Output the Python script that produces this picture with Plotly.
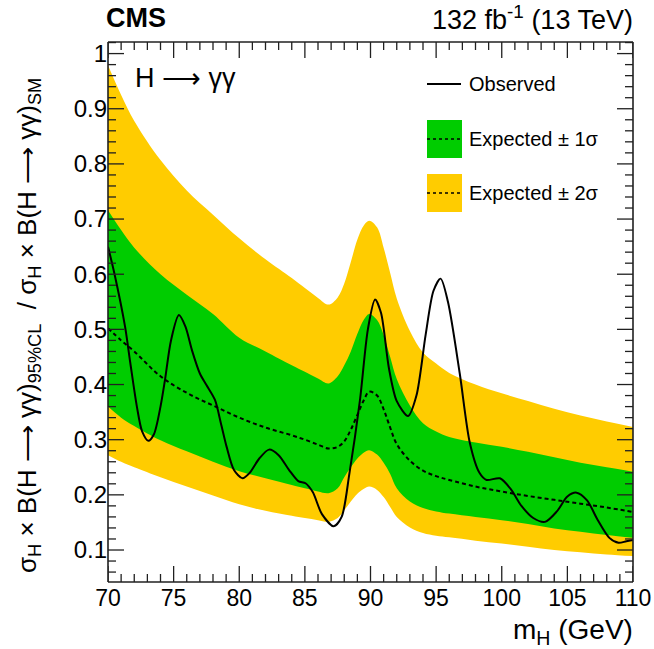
import plotly.graph_objects as go

# ---------------- data ----------------
mass = [70, 71, 72, 74, 76, 78, 80, 82, 84, 85, 86, 86.8, 87.5, 88, 88.5, 89, 89.5, 89.9,
        90.5, 91, 91.5, 92, 93, 94, 95, 96, 98, 100, 102, 104, 106, 108, 110]
exp_p2 = [0.979, 0.925, 0.878, 0.807, 0.752, 0.708, 0.665, 0.627, 0.593, 0.575, 0.557, 0.545,
          0.558, 0.583, 0.622, 0.663, 0.689, 0.697, 0.685, 0.648, 0.602, 0.556, 0.497, 0.458,
          0.438, 0.421, 0.400, 0.384, 0.370, 0.356, 0.344, 0.333, 0.323]
exp_p1 = [0.716, 0.680, 0.648, 0.600, 0.563, 0.528, 0.485, 0.460, 0.435, 0.423, 0.411, 0.402,
          0.415, 0.435, 0.460, 0.492, 0.518, 0.528, 0.517, 0.490, 0.450, 0.410, 0.362, 0.330,
          0.315, 0.305, 0.295, 0.287, 0.278, 0.268, 0.258, 0.250, 0.242]
expected = [0.502, 0.480, 0.460, 0.415, 0.385, 0.362, 0.340, 0.322, 0.308, 0.300, 0.291, 0.284,
            0.287, 0.297, 0.318, 0.345, 0.372, 0.387, 0.380, 0.355, 0.322, 0.292, 0.262, 0.244,
            0.234, 0.227, 0.215, 0.206, 0.198, 0.191, 0.184, 0.177, 0.169]
exp_m1 = [0.360, 0.340, 0.325, 0.299, 0.279, 0.260, 0.243, 0.230, 0.218, 0.212, 0.206, 0.203,
          0.212, 0.232, 0.250, 0.266, 0.277, 0.281, 0.273, 0.258, 0.238, 0.212, 0.188, 0.176,
          0.170, 0.166, 0.160, 0.154, 0.147, 0.139, 0.133, 0.127, 0.122]
exp_m2 = [0.272, 0.260, 0.250, 0.232, 0.215, 0.199, 0.183, 0.171, 0.162, 0.158, 0.154, 0.151,
          0.158, 0.172, 0.188, 0.202, 0.211, 0.215, 0.209, 0.196, 0.178, 0.160, 0.141, 0.131,
          0.126, 0.123, 0.117, 0.112, 0.106, 0.100, 0.096, 0.092, 0.089]

obs_mass = [70, 70.5, 71.3, 71.7, 72.2, 72.6, 73.07, 73.5, 74, 74.34, 74.8, 75.4, 75.9, 76.4,
            77, 77.5, 78.15, 78.6, 79.04, 79.6, 80.25, 80.8, 81.5, 82.27, 83, 83.8, 84.5,
            85.05, 85.6, 86.3, 87.2, 87.8, 88.4, 89.2, 89.8, 90.35, 90.8, 91.4, 92.0, 92.87,
            93.5, 94.2, 94.8, 95.34, 95.9, 96.8, 97.57, 98.3, 98.84, 99.86, 100.7, 101.5,
            102.4, 103.3, 104.2, 105.0, 105.7, 106.5, 107.3, 108.2, 108.9, 109.5, 110]
observed = [0.650, 0.600, 0.505, 0.439, 0.360, 0.315, 0.298, 0.310, 0.360, 0.408, 0.480, 0.526,
            0.505, 0.462, 0.420, 0.399, 0.372, 0.330, 0.287, 0.245, 0.230, 0.240, 0.265, 0.282,
            0.272, 0.245, 0.225, 0.221, 0.205, 0.165, 0.143, 0.160, 0.240, 0.372, 0.500, 0.554,
            0.530, 0.430, 0.370, 0.343, 0.380, 0.490, 0.570, 0.592, 0.550, 0.420, 0.294, 0.240,
            0.227, 0.230, 0.210, 0.180, 0.158, 0.151, 0.170, 0.197, 0.204, 0.190, 0.155, 0.122,
            0.113, 0.116, 0.118]

x_range = [70, 110]
y_range = [0.042, 1.021]
x_major = [70, 75, 80, 85, 90, 95, 100, 105, 110]
x_minor = [m for m in range(71, 110) if m % 5 != 0]
y_major = [0.1, 0.2, 0.3, 0.4, 0.5, 0.6, 0.7, 0.8, 0.9, 1.0]
y_major_labels = ["0.1", "0.2", "0.3", "0.4", "0.5", "0.6", "0.7", "0.8", "0.9", "1"]
y_minor = [k / 50 for k in range(3, 52) if k % 5 != 0]

YELLOW = "#FFCC00"
GREEN = "#00CC00"
FONT = "Liberation Sans"
AXC = "#202020"

L, R, T, B = 108, 633, 42, 582
W, H = 654, 649

fig = go.Figure()
fig.add_trace(go.Scatter(x=mass, y=exp_p2, mode="lines", line=dict(width=0, shape="spline", color=YELLOW),
                         showlegend=False, hoverinfo="skip"))
fig.add_trace(go.Scatter(x=mass, y=exp_m2, mode="lines", line=dict(width=0, shape="spline", color=YELLOW),
                         fill="tonexty", fillcolor=YELLOW, showlegend=False, hoverinfo="skip"))
fig.add_trace(go.Scatter(x=mass, y=exp_p1, mode="lines", line=dict(width=0, shape="spline", color=GREEN),
                         showlegend=False, hoverinfo="skip"))
fig.add_trace(go.Scatter(x=mass, y=exp_m1, mode="lines", line=dict(width=0, shape="spline", color=GREEN),
                         fill="tonexty", fillcolor=GREEN, showlegend=False, hoverinfo="skip"))
fig.add_trace(go.Scatter(x=mass, y=expected, mode="lines",
                         line=dict(width=2, dash="4px,3px", shape="spline", color="black"),
                         showlegend=False))
fig.add_trace(go.Scatter(x=obs_mass, y=observed, mode="lines",
                         line=dict(width=2, shape="spline", smoothing=0.8, color="black"),
                         showlegend=False))


def px(xp):
    return (xp - L) / (R - L)


def py(yp):
    return (B - yp) / (B - T)


fig.update_layout(
    xaxis=dict(range=x_range, tickmode="array", tickvals=x_major, ticktext=[str(v) for v in x_major],
               showline=False, ticks="", showgrid=False, zeroline=False,
               tickfont=dict(family=FONT, size=23, color="black")),
    yaxis=dict(range=y_range, tickmode="array", tickvals=y_major, ticktext=y_major_labels,
               showline=False, ticks="", showgrid=False, zeroline=False,
               tickfont=dict(family=FONT, size=24, color="black")),
)

shapes = []
annotations = []

# ---- frame drawn as thin filled rectangles (pixel-sized) ----
FW = 1.6
for anchor in (0, 1):
    # bottom / top edges
    shapes.append(dict(type="rect", xref="paper", yref="paper", ysizemode="pixel", yanchor=anchor,
                       x0=0, x1=1, y0=-FW / 2, y1=FW / 2, fillcolor=AXC, line=dict(width=0), layer="above"))
    # left / right edges
    shapes.append(dict(type="rect", xref="paper", yref="paper", xsizemode="pixel", xanchor=anchor,
                       y0=0, y1=1, x0=-FW / 2, x1=FW / 2, fillcolor=AXC, line=dict(width=0), layer="above"))

# ---- inside ticks on all four sides as thin filled rectangles, from the tick arrays ----
TW = 1.3


def xtick(v, length):
    for anchor, sign in [(0, 1), (1, -1)]:
        shapes.append(dict(type="rect", xref="x", yref="paper", xsizemode="pixel", ysizemode="pixel",
                           xanchor=v, yanchor=anchor, x0=-TW / 2, x1=TW / 2, y0=0, y1=sign * length,
                           fillcolor=AXC, line=dict(width=0), layer="above"))


def ytick(v, length):
    for anchor, sign in [(0, 1), (1, -1)]:
        shapes.append(dict(type="rect", xref="paper", yref="y", xsizemode="pixel", ysizemode="pixel",
                           xanchor=anchor, yanchor=v, y0=-TW / 2, y1=TW / 2, x0=0, x1=sign * length,
                           fillcolor=AXC, line=dict(width=0), layer="above"))


for v in x_major:
    xtick(v, 16)
for v in x_minor:
    xtick(v, 8)
for v in y_major:
    ytick(v, 16)
for v in y_minor:
    ytick(v, 8)

# Legend
shapes.append(dict(type="line", xref="paper", yref="paper", x0=px(427), x1=px(461), y0=py(84), y1=py(84),
                   line=dict(color="black", width=2)))
for (ya, yb, col) in [(120, 158, GREEN), (174, 212, YELLOW)]:
    shapes.append(dict(type="rect", xref="paper", yref="paper", x0=px(427), x1=px(462), y0=py(yb), y1=py(ya),
                       fillcolor=col, line=dict(width=0)))
    ym = (ya + yb) / 2
    shapes.append(dict(type="line", xref="paper", yref="paper", x0=px(427), x1=px(462), y0=py(ym), y1=py(ym),
                       line=dict(color="black", width=1.5, dash="3px,3px")))

for txt, yy in [("Observed", 84), ("Expected ± 1σ", 139), ("Expected ± 2σ", 193)]:
    annotations.append(dict(text=txt, xref="paper", yref="paper", x=px(467), y=py(yy), xanchor="left",
                            yanchor="middle", showarrow=False, font=dict(family=FONT, size=20, color="black")))

NB = "\u00a0"
ytitle = ("σ<sub>H</sub>" + NB + "×" + NB + "B(H" + NB + "⟶" + NB + "γγ)<sub>95%CL</sub>" + NB * 2 + "/" + NB
          + "σ<sub>H</sub>" + NB + "×" + NB + "B(H" + NB + "⟶" + NB + "γγ)<sub>SM</sub>")

annotations += [
    dict(text="<b>CMS</b>", xref="paper", yref="paper", x=px(104), y=py(18), xanchor="left", yanchor="middle",
         showarrow=False, font=dict(family=FONT, size=27, color="black")),
    dict(text="132 fb<sup>-1</sup> (13 TeV)", xref="paper", yref="paper", x=px(635), y=py(18), xanchor="right",
         yanchor="middle", showarrow=False, font=dict(family=FONT, size=27, color="black")),
    dict(text="H ⟶ γγ", xref="paper", yref="paper", x=px(133), y=py(78), xanchor="left", yanchor="middle",
         showarrow=False, font=dict(family=FONT, size=27, color="black")),
    dict(text="m<sub>H</sub> (GeV)", xref="paper", yref="paper", x=px(635), y=py(631), xanchor="right",
         yanchor="middle", showarrow=False, font=dict(family=FONT, size=28, color="black")),
    dict(text=ytitle, xref="paper", yref="paper", x=px(28), y=py(326), xanchor="center", yanchor="middle",
         textangle=-90, showarrow=False, font=dict(family=FONT, size=26, color="black")),
]

fig.update_layout(width=W, height=H, margin=dict(l=L, r=W - R, t=T, b=H - B, autoexpand=False),
                  paper_bgcolor="white", plot_bgcolor="white", showlegend=False,
                  shapes=shapes, annotations=annotations)

fig.write_html("out.html", config={"displayModeBar": False},
               post_script="document.body.style.margin='0';")
